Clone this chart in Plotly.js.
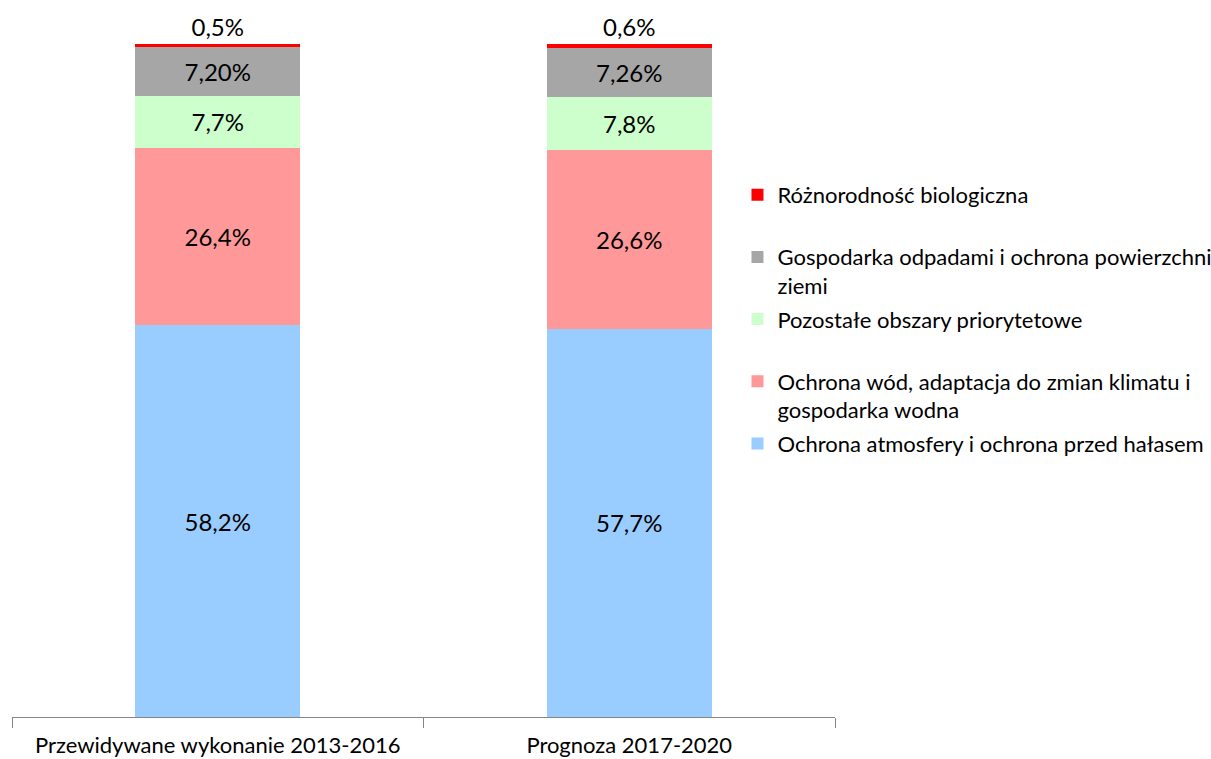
<!DOCTYPE html>
<html>
<head>
<meta charset="utf-8">
<script src="https://cdn.plot.ly/plotly-3.0.1.min.js"></script>
<style>html,body{margin:0;padding:0;background:#fff;}#chart{width:1211px;height:759px;}</style>
</head>
<body>
<div id="chart"></div>
<script>
const categories = ["Przewidywane wykonanie 2013-2016", "Prognoza 2017-2020"];

const atmosferaValues = [58.2, 57.7];
const atmosferaLabels = ["58,2%", "57,7%"];
const wodyValues = [26.4, 26.6];
const wodyLabels = ["26,4%", "26,6%"];
const pozostaleValues = [7.7, 7.8];
const pozostaleLabels = ["7,7%", "7,8%"];
const odpadyValues = [7.20, 7.26];
const odpadyLabels = ["7,20%", "7,26%"];
const bioValues = [0.5, 0.6];
const bioLabels = ["0,5%", "0,6%"];

const seriesNames = [
  "Ochrona atmosfery i ochrona przed hałasem",
  "Ochrona wód, adaptacja do zmian klimatu i<br>gospodarka wodna",
  "Pozostałe obszary priorytetowe<br> ",
  "Gospodarka odpadami i ochrona powierzchni<br>ziemi",
  "Różnorodność biologiczna<br> "
];
const seriesColors = ["#99CCFF", "#FF9999", "#CCFFCC", "#A6A6A6", "#FF0000"];

const FONT = "Lato, 'Open Sans', sans-serif";
const seriesValues = [atmosferaValues, wodyValues, pozostaleValues, odpadyValues, bioValues];
const seriesLabels = [atmosferaLabels, wodyLabels, pozostaleLabels, odpadyLabels, bioLabels];

const traces = seriesValues.map((vals, i) => ({
  type: "bar",
  name: seriesNames[i],
  x: categories,
  y: vals,
  text: seriesLabels[i],
  textposition: i === 4 ? "outside" : "inside",
  insidetextanchor: "middle",
  textfont: {family: FONT, size: 24, color: "#000"},
  constraintext: "none",
  cliponaxis: false,
  marker: {color: seriesColors[i], line: {width: 0}},
  legendgroup: "g" + i,
  legendrank: 5 - i,
  hoverinfo: "none"
}));

const layout = {
  width: 1211,
  height: 759,
  margin: {l: 12, r: 376, t: 44, b: 42, autoexpand: false},
  barmode: "stack",
  bargap: 0.6,
  paper_bgcolor: "#fff",
  plot_bgcolor: "#fff",
  font: {family: FONT, size: 22, color: "#000"},
  showlegend: true,
  legend: {
    x: 0.8815, y: 0.807, xanchor: "left", yanchor: "top",
    traceorder: "grouped",
    tracegroupgap: 2,
    valign: "top",
    itemwidth: 30,
    font: {family: FONT, size: 22, color: "#000"}
  },
  xaxis: {
    type: "category",
    automargin: false,
    showline: true, linecolor: "#868686", linewidth: 1,
    ticks: "outside", tickson: "boundaries", ticklen: 10, tickcolor: "#868686",
    ticklabelstandoff: 9,
    tickfont: {family: FONT, size: 22, color: "#000"},
    showgrid: false, zeroline: false
  },
  yaxis: {
    range: [0, 100], visible: false, showgrid: false, zeroline: false
  }
};

Plotly.newPlot("chart", traces, layout, {displayModeBar: false, staticPlot: true});
</script>
</body>
</html>
